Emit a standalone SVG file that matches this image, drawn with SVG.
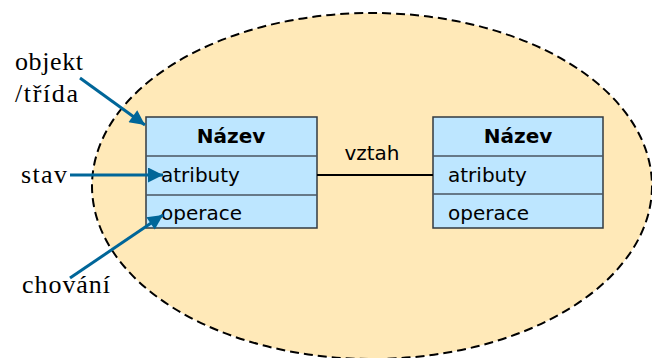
<svg xmlns="http://www.w3.org/2000/svg" width="652" height="358" viewBox="0 0 652 358">
  <style>
    .box { fill: #bde6ff; stroke: #333a40; stroke-width: 1.5; }
    .sep { stroke: #4a5560; stroke-width: 1.5; }
    .title { font-family: "DejaVu Sans", Verdana, sans-serif; font-size: 20px; font-weight: bold; fill: #000; text-anchor: middle; }
    .field { font-family: "DejaVu Sans", Verdana, sans-serif; font-size: 20px; fill: #000; }
    .label { font-family: "Liberation Serif", "DejaVu Serif", serif; font-size: 26px; fill: #000; }
    .pointer { stroke: #006699; stroke-width: 3; fill: none; marker-end: url(#head); }
  </style>
  <defs>
    <marker id="head" viewBox="0 0 10 10" refX="10" refY="5" markerWidth="6" markerHeight="5" markerUnits="strokeWidth" orient="auto">
      <path d="M0,0 L10,5 L0,10 z" fill="#006699"/>
    </marker>
  </defs>

  <!-- boundary of the system -->
  <g id="boundary">
    <ellipse cx="372" cy="186" rx="280" ry="173" fill="#ffe9b8" stroke="#000" stroke-width="2" stroke-dasharray="9,5"/>
  </g>

  <g id="class-left">
    <rect class="box" x="146" y="117" width="171" height="111"/>
    <line class="sep" x1="146" y1="156" x2="317" y2="156"/>
    <line class="sep" x1="146" y1="195" x2="317" y2="195"/>
    <text class="title" x="231" y="143">Název</text>
    <text class="field" x="161" y="182">atributy</text>
    <text class="field" x="161" y="220">operace</text>
  </g>

  <g id="class-right">
    <rect class="box" x="433" y="117" width="170" height="111"/>
    <line class="sep" x1="433" y1="156" x2="603" y2="156"/>
    <line class="sep" x1="433" y1="194" x2="603" y2="194"/>
    <text class="title" x="518" y="143">Název</text>
    <text class="field" x="448" y="182">atributy</text>
    <text class="field" x="448" y="220">operace</text>
  </g>

  <g id="connectors">
    <line x1="317" y1="175" x2="433" y2="175" stroke="#000" stroke-width="2"/>
    <text class="field" x="372" y="160" text-anchor="middle">vztah</text>
    <line class="pointer" x1="80" y1="78" x2="145" y2="125"/>
    <line class="pointer" x1="70" y1="175" x2="163" y2="175"/>
    <line class="pointer" x1="70" y1="278" x2="163" y2="215"/>
  </g>

  <g id="label-objekt">
    <text class="label" x="15" y="70" textLength="68">objekt</text>
    <text class="label" x="15" y="102" textLength="63">/třída</text>
  </g>
  <g id="label-stav">
    <text class="label" x="21" y="183" textLength="46">stav</text>
  </g>
  <g id="label-chovani">
    <text class="label" x="22" y="293" textLength="88">chování</text>
  </g>
</svg>
